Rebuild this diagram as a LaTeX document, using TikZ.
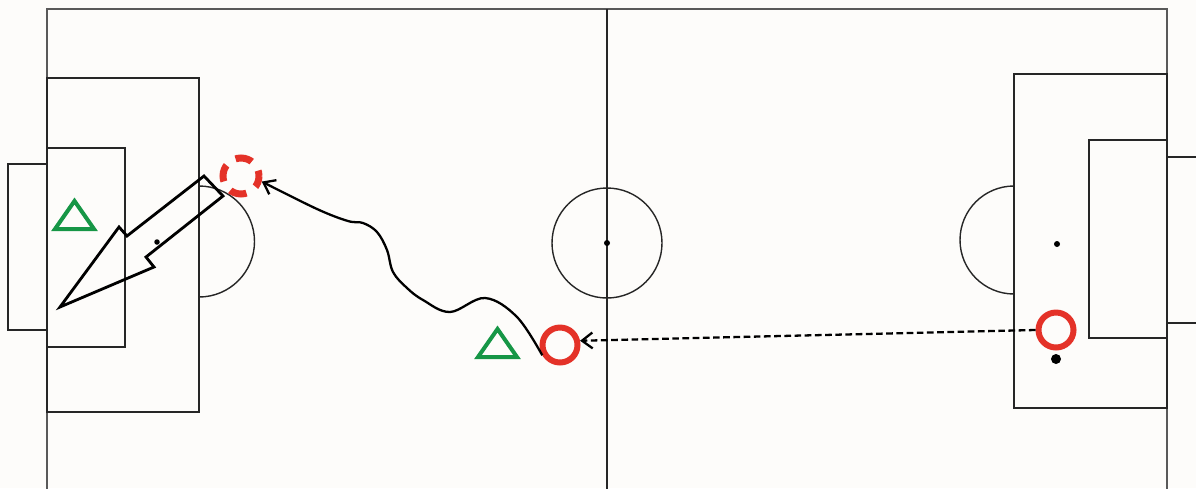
\documentclass[tikz,border=0pt]{standalone}
\usepackage{tikz}
\usetikzlibrary{arrows.meta,shapes.geometric}

\definecolor{shirtred}{RGB}{228,50,40}
\definecolor{shirtgreen}{RGB}{22,150,70}
\definecolor{turf}{RGB}{253,252,250}

\tikzset{
  pitch/.style={line width=0.8pt, draw=black!85},
  touch/.style={line width=1.2pt, draw=black!65},
  attacker/.style={circle, draw=shirtred, line width=0.12cm, minimum size=0.7cm, inner sep=0pt},
  ghost/.style={attacker, line width=0.14cm, minimum size=0.72cm, dash pattern=on 0.34cm off 0.225cm, dash phase=0.23cm},
  defender/.style={isosceles triangle, isosceles triangle apex angle=67, isosceles triangle stretches,
    shape border rotate=90, draw=shirtgreen, line width=0.08cm, minimum width=0.78cm, minimum height=0.56cm, inner sep=0pt},
  spot/.style={circle, fill=black, inner sep=0pt, minimum size=0.12cm},
  pass/.style={line width=1.3pt, dash pattern=on 3.8pt off 2pt, -{Straight Barb[length=6pt,width=9pt]}},
  dribble/.style={line width=1.3pt, -{Straight Barb[length=6pt,width=9pt]}},
  shot/.style={line width=1.6pt, line join=miter}
}

\begin{document}
\begin{tikzpicture}[x=0.02cm,y=-0.02cm]

\useasboundingbox (0,0) rectangle (1196,488);
\fill[turf] (0,0) rectangle (1196,488);
\clip (0,0) rectangle (1196,488);

% Touchlines
\draw[touch] (47,495) -- (47,9) -- (1167,9) -- (1167,495);

%Halfway line and centre circle
\draw[pitch] (607,9) -- (607,495);
\draw[pitch] (607,243) circle (55);
\node[spot] (kickoff) at (607,243) {};

%%%%%%%%%%%% Left end %%%%%%%%%%%%%%%%%%%
		\draw[pitch] (47,78) rectangle (199,412);
		\draw[pitch] (47,148) rectangle (125,347);
		\draw[pitch] (47,164) -- (8,164) -- (8,330) -- (47,330);
		\draw[pitch] (199,186) arc[start angle=-90, end angle=90, radius=55.5];
\node[spot, minimum size=0.11cm] (leftspot) at (157,242) {};

%%%%%%%%%%%% Right end %%%%%%%%%%%%%%%%%%%
		\draw[pitch] (1167,74) rectangle (1014,408);
		\draw[pitch] (1167,140) rectangle (1089,338);
		\draw[pitch] (1167,157) -- (1200,157);
		\draw[pitch] (1167,323) -- (1200,323);
		\draw[pitch] (1014,186) arc[start angle=-90, end angle=-270, radius=54];
\node[spot] (rightspot) at (1057,244) {};

%Ball
\node[spot, minimum size=0.2cm] (ball) at (1056,359) {};

%Players
\node[attacker] (winger) at (1056,330) {};
\node[attacker] (mid) at (560,345) {};
\node[ghost] (midnew) at (241,176) {};
\node[defender, anchor=south] (keeper) at (74.5,231) {};
\node[defender, anchor=south] (holder) at (497.5,359) {};

%Pass
\draw[pass] (winger.west) -- (mid.12);

%Run with the ball
\draw[dribble] plot[smooth, tension=0.6] coordinates {(mid.210) (517,317) (485,298) (450,312) (423,300) (407,288) (393,272) (387,250) (377,232) (363,223) (348,221) (317,209) (midnew.-15)};

%Shot
\draw[shot] (204,176) -- (223,196) -- (146,257) -- (154,267) -- (60,307) -- (119,227) -- (127,236) -- cycle;

\end{tikzpicture}
\end{document}
